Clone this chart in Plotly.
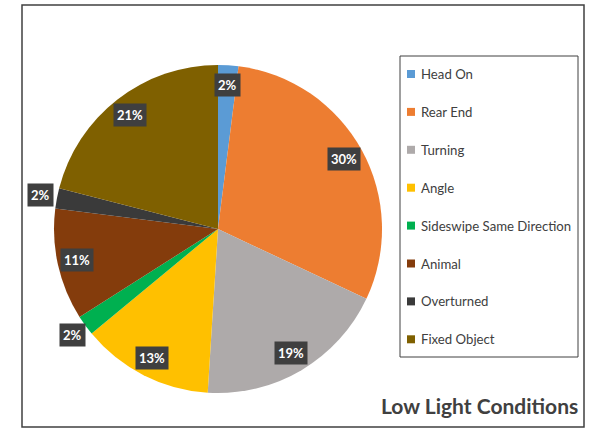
import math
import plotly.graph_objects as go

# Crash types under low-light conditions (share of crashes, %)
categories = ["Head On", "Rear End", "Turning", "Angle",
              "Sideswipe Same Direction", "Animal", "Overturned", "Fixed Object"]
shares = [2, 30, 19, 13, 2, 11, 2, 21]
colors = ["#5B9BD5", "#ED7D31", "#AEAAAA", "#FFC000",
          "#00B050", "#843C0C", "#3A3A3A", "#7F6000"]
title_text = "Low Light Conditions"

# Slices whose value labels sit just outside the pie
outside_labels = {"Sideswipe Same Direction", "Overturned"}

W, H = 596, 429
CX, CY, R = 218, 229, 164          # pie centre and radius in pixels
FONT = "Lato, 'Open Sans', sans-serif"


def px(x):
    return x / W


def py(y):
    return 1 - y / H


fig = go.Figure()
fig.add_trace(go.Pie(
    labels=categories,
    values=shares,
    sort=False,
    direction="clockwise",
    rotation=0,
    marker=dict(colors=colors, line=dict(width=0)),
    textinfo="none",
    hoverinfo="label+percent",
    showlegend=False,
    domain=dict(x=[px(CX - R), px(CX + R)], y=[py(CY + R), py(CY - R)]),
))

annotations = []
shapes = []

# Value labels placed at each slice's mid-angle
total = sum(shares)
cum = 0
for name, v in zip(categories, shares):
    mid = (cum + v / 2) / total * 2 * math.pi
    cum += v
    ratio = 1.10 if name in outside_labels else 0.88
    x = CX + R * ratio * math.sin(mid)
    y = CY - R * ratio * math.cos(mid)
    annotations.append(dict(
        x=px(x), y=py(y), xref="paper", yref="paper",
        text=f"<b>{v}%</b>", showarrow=False,
        font=dict(family=FONT, size=13, color="white"),
        bgcolor="#3f3f3f", borderpad=3,
        xanchor="center", yanchor="middle",
    ))

# Legend box with one swatch per category
LX0, LX1, LY0, LY1 = 400, 578, 56, 357
shapes.append(dict(type="rect", xref="paper", yref="paper",
                   x0=px(LX0), x1=px(LX1), y0=py(LY1), y1=py(LY0),
                   line=dict(color="#404040", width=1), fillcolor="white",
                   layer="below"))
row_top, row_step = 74, 37.9
for i, (name, c) in enumerate(zip(categories, colors)):
    yc = row_top + i * row_step
    shapes.append(dict(type="rect", xref="paper", yref="paper",
                       x0=px(407), x1=px(415), y0=py(yc + 4), y1=py(yc - 4),
                       line=dict(width=0), fillcolor=c))
    annotations.append(dict(
        x=px(419), y=py(yc), xref="paper", yref="paper",
        text=name, showarrow=False, xanchor="left", yanchor="middle",
        font=dict(family=FONT, size=13.2, color="#404040"),
    ))

# Chart title, bottom right
annotations.append(dict(
    x=px(580), y=py(405), xref="paper", yref="paper",
    text=f"<b>{title_text}</b>", showarrow=False,
    xanchor="right", yanchor="middle",
    font=dict(family=FONT, size=21, color="#404040"),
))

# Outer frame of the chart area
shapes.append(dict(type="rect", xref="paper", yref="paper",
                   x0=px(22), x1=px(584), y0=py(427), y1=py(5),
                   line=dict(color="#404040", width=1.5), layer="below"))

fig.update_layout(
    width=W, height=H,
    margin=dict(l=0, r=0, t=0, b=0),
    paper_bgcolor="white",
    plot_bgcolor="white",
    annotations=annotations,
    shapes=shapes,
)

fig.write_html("out.html")
